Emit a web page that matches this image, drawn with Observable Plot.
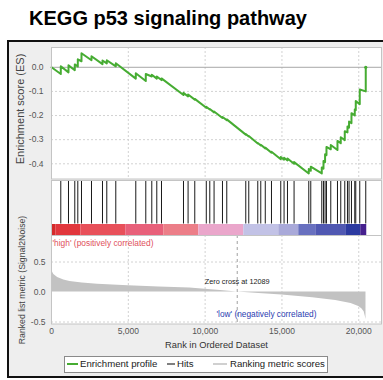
<!DOCTYPE html>
<html><head><meta charset="utf-8">
<script src="https://cdn.jsdelivr.net/npm/d3@7"></script>
<script src="https://cdn.jsdelivr.net/npm/@observablehq/plot@0.6"></script>
<style>
body{margin:0;width:383px;height:380px;overflow:hidden;background:#fff;position:relative;font-family:"Liberation Sans",Arial,sans-serif;}
.abs{position:absolute;white-space:nowrap;}
.rot{position:absolute;white-space:nowrap;transform:translate(-50%,-50%) rotate(-90deg);color:#444;}
.chart{position:absolute;left:0;}
#legend span{position:absolute;}
</style></head><body>
<div class="abs" id="title" style="left:0;width:336px;top:8px;line-height:20px;text-align:center;font-weight:bold;font-size:20px;color:#000"></div>
<div class="abs" id="frame" style="left:7px;top:40px;width:430px;height:338px;box-sizing:border-box;border:2px solid #111;background:#eeeeee"></div>
<div id="charts"></div>
<div class="rot" id="esLabel" style="left:20px;top:109px;font-size:11px"></div>
<div class="rot" id="metricLabel" style="left:22px;top:280px;font-size:8.7px"></div>
<div class="abs" id="xLabel" style="left:216.5px;top:345px;transform:translate(-50%,-50%);font-size:9.3px;color:#333"></div>
<div class="abs" id="legend" style="left:64px;top:356px;width:264px;height:17px;box-sizing:border-box;border:1px solid #8a8a8a;background:#fff;font-size:9.6px;color:#222;line-height:14px"></div>
<script>
const title = "KEGG p53 signaling pathway";
const N = 20520;
const zeroCross = 12089;
const xTicks = [0, 5000, 10000, 15000, 20000];
const esTicks = [0, -0.1, -0.2, -0.3, -0.4];
const metricTicks = [0.5, 0, -0.5];
const highLabel = "'high' (positively correlated)";
const lowLabel = "'low' (negatively correlated)";
const zeroLabel = "Zero cross at " + zeroCross;
const esAxisLabel = "Enrichment score (ES)";
const metricAxisLabel = "Ranked list metric (Signal2Noise)";
const xAxisLabel = "Rank in Ordered Dataset";
const legendLabels = ["Enrichment profile", "Hits", "Ranking metric scores"];

const hitRanks = [605, 1106, 1516, 1712, 1952, 2603, 3319, 3599, 4185, 5486, 6137, 6528, 6853, 7159,
  8591, 8890, 9326, 10075, 10303, 10582, 11129, 11409, 12645, 12841, 13427, 13622, 13915, 14318,
  14923, 15138, 15360, 15789, 16746, 16876, 17592, 17703, 17807, 17898, 18178, 18614, 18828,
  19089, 19265, 19368, 19525, 19740, 19805, 20065, 20455];

const esRank = [0,
  605, 605, 1106, 1106, 1516, 1516, 1712, 1712, 1952, 1952, 2603, 2603, 3319, 3319, 3599, 3599,
  4185, 4185, 5486, 5486, 6137, 6137, 6528, 6528, 6853, 6853, 7159, 7159, 8591, 8591, 8890, 8890,
  9326, 9326, 10075, 10075, 10303, 10303, 10582, 10582, 11129, 11129, 11409, 11409, 12645, 12645,
  12841, 12841, 13427, 13427, 13622, 13622, 13915, 13915, 14318, 14318, 14923, 14923, 15138, 15138,
  15360, 15360, 15789, 15789, 16746, 16746, 16876, 16876, 17592, 17592, 17703, 17703, 17807, 17807,
  17898, 17898, 18178, 18178, 18614, 18614, 18828, 18828, 19089, 19089, 19265, 19265, 19368, 19368,
  19525, 19525, 19740, 19740, 19805, 19805, 20065, 20065, 20455, 20455];
const esValue = [0,
  -0.028, 0.004, -0.021, 0.008, -0.012, 0.012, 0.003, 0.033, 0.025, 0.058, 0.029, 0.046, 0.013, 0.028, 0.016, 0.029,
  0.004, 0.017, -0.047, -0.025, -0.057, -0.028, -0.038, -0.031, -0.047, -0.038, -0.053, -0.046, -0.115, -0.106, -0.121, -0.113,
  -0.134, -0.131, -0.168, -0.164, -0.175, -0.173, -0.187, -0.183, -0.21, -0.206, -0.219, -0.216, -0.279, -0.277,
  -0.287, -0.285, -0.316, -0.314, -0.324, -0.321, -0.336, -0.333, -0.354, -0.35, -0.381, -0.372, -0.383, -0.375,
  -0.386, -0.378, -0.4, -0.393, -0.44, -0.422, -0.429, -0.412, -0.44, -0.415, -0.42, -0.388, -0.393, -0.36,
  -0.364, -0.33, -0.34, -0.322, -0.343, -0.305, -0.315, -0.29, -0.302, -0.265, -0.27, -0.245, -0.25, -0.225,
  -0.232, -0.19, -0.2, -0.175, -0.178, -0.14, -0.153, -0.092, -0.1, 0];

const metricRank = [0, 50, 150, 400, 800, 1200, 2000, 3000, 5000, 7000, 9000, 11000, 12089, 13500, 15000,
  17000, 18500, 19500, 20000, 20200, 20350, 20420, 20470];
const metricValue = [0.42, 0.34, 0.29, 0.24, 0.2, 0.175, 0.15, 0.13, 0.105, 0.085, 0.065, 0.027, 0, -0.025, -0.05,
  -0.095, -0.14, -0.19, -0.24, -0.28, -0.33, -0.4, -0.46];

const colorBarStart = [0, 280, 1907, 4835, 7308, 9587, 12516, 14794, 16095, 17202, 19154, 20130];
const colorBarColor = ["#d42a2a", "#e1363c", "#e8505a", "#e8607a", "#ec7e88", "#eaa6cb", "#c2c2e6", "#a9a9d9", "#6870bf", "#5058b2", "#2c3aa0", "#46208e"];

const esData = esRank.map((r, i) => ({rank: r, es: esValue[i]}));
const metricData = metricRank.map((r, i) => ({rank: r, v: metricValue[i]}));
const cbData = colorBarStart.map((s, i) => ({start: s, end: i + 1 < colorBarStart.length ? colorBarStart[i + 1] : N, color: colorBarColor[i]}));

const fmt = d => d.toFixed(1);
const xDomain = [0, 21480];
const base = {width: 383, marginLeft: 51, marginRight: 2,
  style: {background: "transparent", fontFamily: "'Liberation Sans', Arial, sans-serif", fontSize: "8.5px", color: "#555", overflow: "visible"}};
const green = "#46ac32";
const gridStyle = {stroke: "#d2d2d2", strokeDasharray: "2,2"};

const es = Plot.plot({...base, height: 140, marginTop: 7, marginBottom: 1.5,
  x: {domain: xDomain, axis: null},
  y: {domain: [-0.463, 0.082], ticks: esTicks, tickFormat: fmt, tickSize: 0, tickPadding: 8, label: null},
  marks: [
    Plot.frame({fill: "#fff"}),
    Plot.ruleX(xTicks.filter(d => d > 0), gridStyle),
    Plot.ruleY(esTicks.filter(d => d !== 0), gridStyle),
    Plot.ruleY([0], {stroke: "#a8a8a8"}),
    Plot.line(esData, {x: "rank", y: "es", stroke: green, strokeWidth: 2}),
    Plot.dot(esData.slice(-1), {x: "rank", y: "es", r: 1.6, fill: green}),
    Plot.frame({stroke: "#c4c4c4"})
  ]});

const hits = Plot.plot({...base, height: 55, marginTop: 0, marginBottom: 0,
  x: {domain: xDomain, axis: null},
  color: {type: "identity"},
  marks: [
    Plot.frame({fill: "#fff"}),
    Plot.ruleX(hitRanks, {stroke: "#1a1a1a", strokeWidth: 1, insetTop: 0.5, insetBottom: 11.5}),
    Plot.rect(cbData, {x1: "start", x2: "end", fill: "color", insetTop: 44}),
    Plot.frame({stroke: "#c4c4c4"})
  ]});

const metric = Plot.plot({...base, height: 110, marginTop: 0, marginBottom: 21.5,
  x: {domain: xDomain, ticks: xTicks, tickFormat: d3.format(","), tickSize: 0, tickPadding: 4, label: null},
  y: {domain: [-0.533, 0.942], ticks: metricTicks, tickFormat: fmt, tickSize: 0, tickPadding: 6, label: null},
  marks: [
    Plot.frame({fill: "#fff"}),
    Plot.ruleX(xTicks.filter(d => d > 0), gridStyle),
    Plot.ruleY(metricTicks.filter(d => d !== 0), gridStyle),
    Plot.areaY(metricData, {x: "rank", y: "v", fill: "#c2c2c2"}),
    Plot.ruleX([zeroCross], {stroke: "#a0a0a0", strokeDasharray: "3,3"}),
    Plot.text([highLabel], {frameAnchor: "top-left", text: d => d, textAnchor: "start", dx: 1, dy: 5, fill: "#e0505c", fontSize: 8.4}),
    Plot.text([zeroCross], {x: d => d, frameAnchor: "top", text: () => zeroLabel, dy: 43, fill: "#222", fontSize: 7.3}),
    Plot.text([lowLabel], {frameAnchor: "bottom-right", text: d => d, textAnchor: "end", dx: -65, dy: -7, fill: "#2a3cb0", fontSize: 8.3}),
    Plot.frame({stroke: "#c4c4c4"})
  ]});

const charts = document.getElementById("charts");
[[es, 40], [hits, 180], [metric, 235]].forEach(([c, top]) => {
  c.classList.add("chart");
  c.style.position = "absolute";
  c.style.left = "0px";
  c.style.top = top + "px";
  charts.appendChild(c);
});

document.getElementById("title").textContent = title;
document.getElementById("esLabel").textContent = esAxisLabel;
document.getElementById("metricLabel").textContent = metricAxisLabel;
document.getElementById("xLabel").textContent = xAxisLabel;

const legend = document.getElementById("legend");
const legendColors = [green, "#808080", "#d0d0d0"];
const legendLineX = [2, 102, 148];
const legendLineW = [11, 8, 14];
const legendTextX = [15, 112, 165];
legendLabels.forEach((t, i) => {
  const ln = document.createElement("span");
  ln.style.cssText = `left:${legendLineX[i]}px;top:6px;width:${legendLineW[i]}px;height:2px;background:${legendColors[i]}`;
  legend.appendChild(ln);
  const tx = document.createElement("span");
  tx.style.cssText = `left:${legendTextX[i]}px;top:0px;`;
  tx.textContent = t;
  legend.appendChild(tx);
});
</script>
</body></html>
